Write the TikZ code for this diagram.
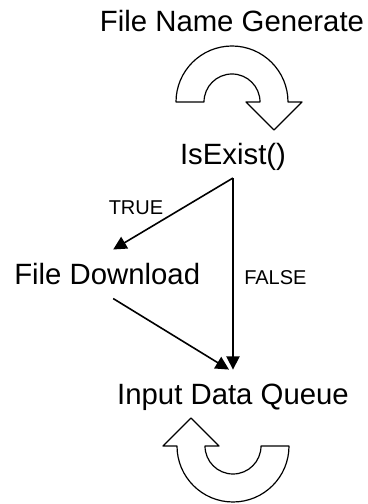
\documentclass[tikz,border=0pt]{standalone}
\usepackage{fontspec}
\setmainfont{Liberation Sans}
\usetikzlibrary{arrows.meta,positioning}
\tikzset{
  bigtext/.style={inner sep=0pt,anchor=base,font=\fontsize{22}{26}\selectfont},
  smalltag/.style={inner sep=0pt,anchor=base,font=\fontsize{15}{18}\selectfont},
  flowarrow/.style={line width=1.2pt,-{Triangle[length=10pt,width=10pt]}},
  uturn/.style={line width=0.9pt,fill=white,line join=round}
}

\begin{document}
\begin{tikzpicture}[x=0.75pt,y=0.75pt]
    \useasboundingbox (0,0) rectangle (368,504);
    % curved arrows
    \draw[uturn] (176,402) arc (180:0:56) -- (302,402) -- (274,374) -- (246,402)
        -- (260,402) arc (0:180:28) -- cycle;
    \draw[uturn] (289,58) arc (0:-180:56) -- (163,58) -- (191,86) -- (219,58)
        -- (205,58) arc (180:360:28) -- cycle;
    % texts
    \node[bigtext] (gen) at (232,472) {File Name Generate};
    \node[bigtext] (exist) at (233,339) {IsExist()};
    \node[bigtext,anchor=base west] (down) at (14,219) {File Download};
    \node[bigtext] (queue) at (233,99) {Input Data Queue};
    \node[smalltag] (yes) at (136,289) {TRUE};
    \node[smalltag,anchor=base west] (no) at (244,219) {FALSE};
    % connectors
    \coordinate (fork) at ([yshift=-5pt]exist.south);
    \draw[flowarrow] (fork) -- ([xshift=4.5pt,yshift=10.5pt]down.north);
    \draw[flowarrow] (fork) -- ([yshift=11pt]queue.north);
    \draw[flowarrow] ([xshift=4.5pt,yshift=-9.75pt]down.south)
        -- ([xshift=-3pt,yshift=11pt]queue.north);
\end{tikzpicture}
\end{document}
